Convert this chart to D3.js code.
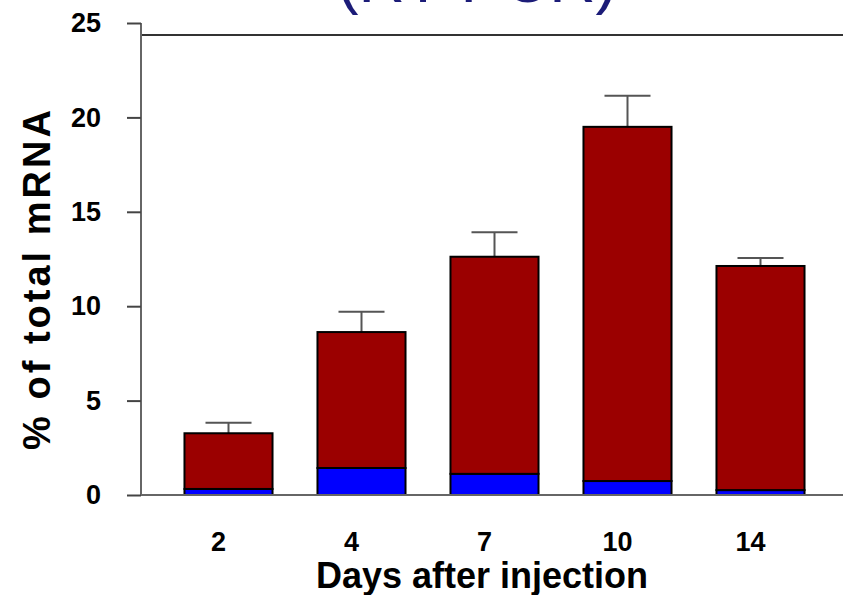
<!DOCTYPE html>
<html><head><meta charset="utf-8">
<script src="https://cdn.jsdelivr.net/npm/d3@7"></script>
<style>html,body{margin:0;padding:0;background:#fff;}svg{display:block;}</style>
</head><body>
<script>
const days = ["2", "4", "7", "10", "14"];
const blueValues = [0.32, 1.43, 1.12, 0.74, 0.26];
const redValues = [2.95, 7.20, 11.50, 18.76, 11.87];
const errorValues = [0.56, 1.07, 1.30, 1.65, 0.42];
const yTicks = [0, 5, 10, 15, 20, 25];
const titleText = "(RT-PCR)";
const xTitle = "Days after injection";
const yTitle = "% of total mRNA";

const W = 843, H = 595;
const svg = d3.select("body").append("svg").attr("width", W).attr("height", H);
const font = "'Liberation Sans', Arial, sans-serif";

const x = d3.scaleBand().domain(days).range([162, 827]).paddingInner(0.338).paddingOuter(0.169);
const y = d3.scaleLinear().domain([0, 25]).range([495, 23]);

// title (cut off at top)
svg.append("text").attr("x", 477).attr("y", 2).attr("text-anchor", "middle")
  .attr("font-family", font).attr("font-size", 64).attr("fill", "#1c1c78").text(titleText);
// top rule
svg.append("line").attr("x1", 142).attr("x2", 843).attr("y1", 35).attr("y2", 35)
  .attr("stroke", "#333").attr("stroke-width", 2);

const stacked = days.map((d, i) => ({ day: d, blue: blueValues[i], red: redValues[i], err: errorValues[i] }));
const series = d3.stack().keys(["blue", "red"])(stacked);
const colors = { blue: "#0000ff", red: "#9b0000" };

// error bars (behind bars)
const eg = svg.append("g").attr("stroke", "#555").attr("stroke-width", 2);
stacked.forEach(d => {
  const cx = x(d.day) + x.bandwidth() / 2;
  const top = d.blue + d.red;
  eg.append("line").attr("x1", cx).attr("x2", cx).attr("y1", y(top)).attr("y2", y(top + d.err));
  eg.append("line").attr("x1", cx - 23).attr("x2", cx + 23).attr("y1", y(top + d.err)).attr("y2", y(top + d.err));
});

series.forEach(s => {
  svg.append("g").selectAll("rect").data(s).join("rect")
    .attr("x", d => x(d.data.day))
    .attr("width", x.bandwidth())
    .attr("y", d => y(d[1]))
    .attr("height", d => y(d[0]) - y(d[1]))
    .attr("fill", colors[s.key])
    .attr("stroke", "#000").attr("stroke-width", 2);
});

// axes
const yAxis = svg.append("g").attr("transform", "translate(141,0)")
  .call(d3.axisLeft(y).tickValues(yTicks).tickSize(14).tickPadding(8).tickFormat(d3.format("d")));
yAxis.select(".domain").attr("stroke", "#666").attr("stroke-width", 2).attr("d", `M0,${y(25)}V${y(0)}`);
yAxis.selectAll(".tick line").attr("stroke", "#444").attr("stroke-width", 2);
yAxis.selectAll(".tick text").attr("font-family", font).attr("font-size", 27).attr("font-weight", "bold").attr("fill", "#000").attr("x", -40);

const xAxis = svg.append("g").attr("transform", "translate(0,495)")
  .call(d3.axisBottom(x).tickSize(0).tickPadding(0));
xAxis.select(".domain").attr("stroke", "#666").attr("stroke-width", 2).attr("d", "M141,0H843");
xAxis.selectAll(".tick text").attr("font-family", font).attr("font-size", 27).attr("font-weight", "bold")
  .attr("fill", "#000").attr("dy", null).attr("y", 56).attr("dx", -10);

svg.append("text").attr("x", 482).attr("y", 588).attr("text-anchor", "middle")
  .attr("font-family", font).attr("font-size", 36).attr("font-weight", "bold").text(xTitle);
svg.append("text").attr("transform", "translate(50,280) rotate(-90)").attr("text-anchor", "middle")
  .attr("font-family", font).attr("font-size", 38).attr("font-weight", "bold")
  .attr("textLength", 340).attr("lengthAdjust", "spacing").text(yTitle);
</script>
</body></html>
